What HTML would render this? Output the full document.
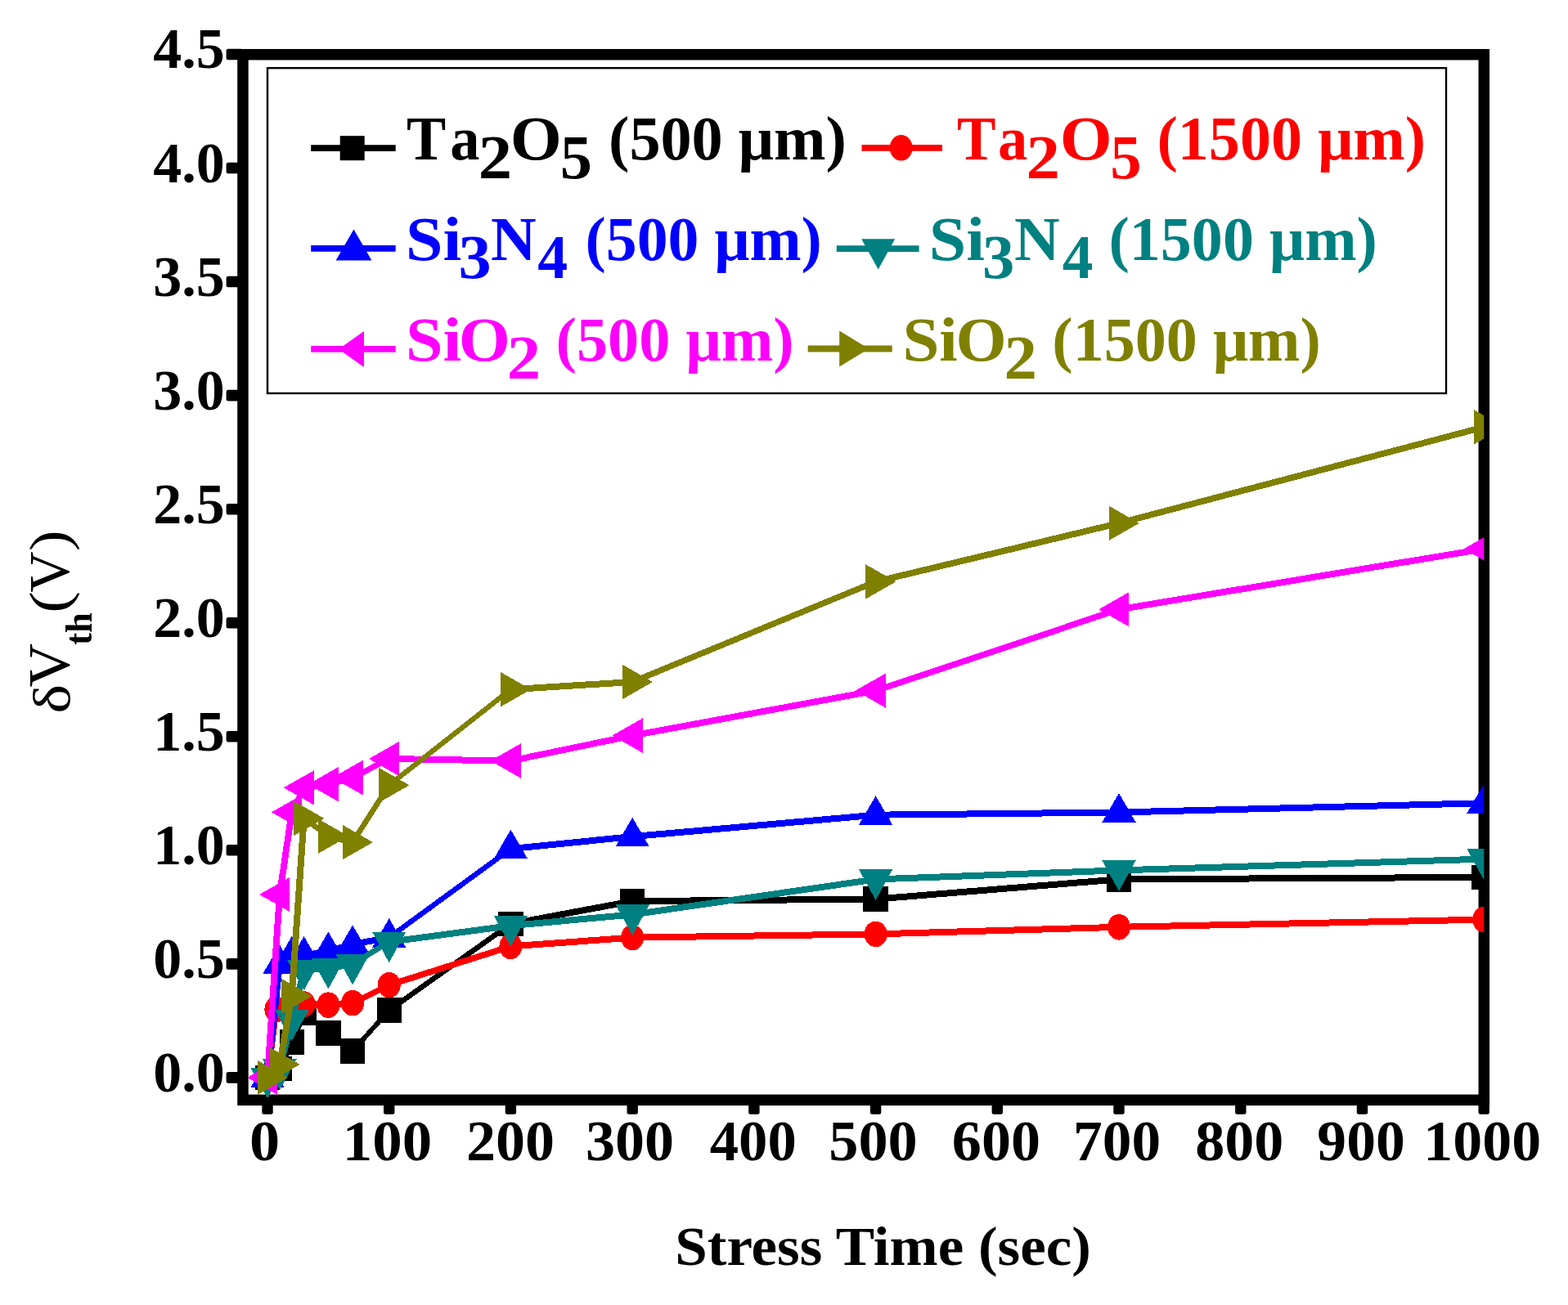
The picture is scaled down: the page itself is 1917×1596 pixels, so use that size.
<!DOCTYPE html>
<html><head><meta charset="utf-8"><title>Stress Time vs dVth</title>
<style>html,body{margin:0;padding:0;background:#fff;overflow:hidden;} svg{display:block;}</style>
</head><body>
<svg width='1917' height='1596' viewBox='0 0 1917 1596'>
<defs><clipPath id='pa'><rect x='296.95' y='66.70' width='1517.35' height='1278.60'/></clipPath></defs>
<rect width='1917' height='1596' fill='#fff'/>
<rect x='296.95' y='66.7' width='1517.35' height='1278.60' fill='none' stroke='#000' stroke-width='13.5'/>
<g clip-path='url(#pa)' shape-rendering='crispEdges'>
<path d='M327.0,1313.9 L341.9,1302.8 L341.9,1310.8 L327.0,1321.9Z M337.9,1306.8 L352.7,1274.2 L360.7,1274.2 L345.9,1306.8Z M352.7,1274.2 L367.6,1238.9 L375.6,1238.9 L360.7,1274.2Z M371.6,1234.9 L401.4,1259.4 L401.4,1267.4 L371.6,1242.9Z M401.4,1259.4 L431.1,1281.4 L431.1,1289.4 L401.4,1267.4Z M427.1,1285.4 L471.7,1235.6 L479.7,1235.6 L435.1,1285.4Z M475.7,1231.6 L624.4,1125.9 L624.4,1133.9 L475.7,1239.6Z M624.4,1125.9 L773.2,1098.1 L773.2,1106.1 L624.4,1133.9Z M773.2,1098.1 L1070.6,1095.6 L1070.6,1103.6 L773.2,1106.1Z M1070.6,1095.6 L1368.0,1071.4 L1368.0,1079.4 L1070.6,1103.6Z M1368.0,1071.4 L1814.2,1068.9 L1814.2,1076.9 L1368.0,1079.4Z' fill='#000000'/>
<rect x='311.8' y='1302.7' width='30.5' height='30.5' fill='#000000'/>
<rect x='326.6' y='1291.5' width='30.5' height='30.5' fill='#000000'/>
<rect x='341.5' y='1259.0' width='30.5' height='30.5' fill='#000000'/>
<rect x='356.4' y='1223.7' width='30.5' height='30.5' fill='#000000'/>
<rect x='386.1' y='1248.1' width='30.5' height='30.5' fill='#000000'/>
<rect x='415.9' y='1270.1' width='30.5' height='30.5' fill='#000000'/>
<rect x='460.5' y='1220.3' width='30.5' height='30.5' fill='#000000'/>
<rect x='609.2' y='1114.7' width='30.5' height='30.5' fill='#000000'/>
<rect x='757.9' y='1086.8' width='30.5' height='30.5' fill='#000000'/>
<rect x='1055.3' y='1084.3' width='30.5' height='30.5' fill='#000000'/>
<rect x='1352.8' y='1060.1' width='30.5' height='30.5' fill='#000000'/>
<rect x='1799.0' y='1057.6' width='30.5' height='30.5' fill='#000000'/>
<path d='M323.0,1317.9 L333.4,1234.5 L341.4,1234.5 L331.0,1317.9Z M337.4,1230.5 L356.7,1227.7 L356.7,1235.7 L337.4,1238.5Z M356.7,1227.7 L371.6,1224.1 L371.6,1232.1 L356.7,1235.7Z M371.6,1224.1 L401.4,1225.2 L401.4,1233.2 L371.6,1232.1Z M401.4,1225.2 L431.1,1222.7 L431.1,1230.7 L401.4,1233.2Z M431.1,1222.7 L475.7,1200.7 L475.7,1208.7 L431.1,1230.7Z M475.7,1200.7 L624.4,1153.4 L624.4,1161.4 L475.7,1208.7Z M624.4,1153.4 L773.2,1142.6 L773.2,1150.6 L624.4,1161.4Z M773.2,1142.6 L1070.6,1138.4 L1070.6,1146.4 L773.2,1150.6Z M1070.6,1138.4 L1368.0,1129.8 L1368.0,1137.8 L1070.6,1146.4Z M1368.0,1129.8 L1814.2,1120.6 L1814.2,1128.6 L1368.0,1137.8Z' fill='#FF0000'/>
<ellipse cx='327.0' cy='1317.9' rx='14' ry='15.8' fill='#FF0000'/>
<ellipse cx='337.4' cy='1234.5' rx='14' ry='15.8' fill='#FF0000'/>
<ellipse cx='356.7' cy='1231.7' rx='14' ry='15.8' fill='#FF0000'/>
<ellipse cx='371.6' cy='1228.1' rx='14' ry='15.8' fill='#FF0000'/>
<ellipse cx='401.4' cy='1229.2' rx='14' ry='15.8' fill='#FF0000'/>
<ellipse cx='431.1' cy='1226.7' rx='14' ry='15.8' fill='#FF0000'/>
<ellipse cx='475.7' cy='1204.7' rx='14' ry='15.8' fill='#FF0000'/>
<ellipse cx='624.4' cy='1157.4' rx='14' ry='15.8' fill='#FF0000'/>
<ellipse cx='773.2' cy='1146.6' rx='14' ry='15.8' fill='#FF0000'/>
<ellipse cx='1070.6' cy='1142.4' rx='14' ry='15.8' fill='#FF0000'/>
<ellipse cx='1368.0' cy='1133.8' rx='14' ry='15.8' fill='#FF0000'/>
<ellipse cx='1814.2' cy='1124.6' rx='14' ry='15.8' fill='#FF0000'/>
<path d='M323.0,1317.9 L337.9,1178.9 L345.9,1178.9 L331.0,1317.9Z M341.9,1174.9 L356.7,1164.6 L356.7,1172.6 L341.9,1182.9Z M356.7,1164.6 L371.6,1164.6 L371.6,1172.6 L356.7,1172.6Z M371.6,1164.6 L401.4,1159.0 L401.4,1167.0 L371.6,1172.6Z M401.4,1159.0 L431.1,1150.9 L431.1,1158.9 L401.4,1167.0Z M431.1,1150.9 L475.7,1142.6 L475.7,1150.6 L431.1,1158.9Z M475.7,1142.6 L624.4,1034.1 L624.4,1042.1 L475.7,1150.6Z M624.4,1034.1 L773.2,1019.1 L773.2,1027.1 L624.4,1042.1Z M773.2,1019.1 L1070.6,992.7 L1070.6,1000.7 L773.2,1027.1Z M1070.6,992.7 L1368.0,989.5 L1368.0,997.5 L1070.6,1000.7Z M1368.0,989.5 L1814.2,978.2 L1814.2,986.2 L1368.0,997.5Z' fill='#0000FF'/>
<polygon points='327.0,1294.4 347.7,1330.2 306.3,1330.2' fill='#0000FF'/>
<polygon points='341.9,1155.4 362.6,1191.2 321.2,1191.2' fill='#0000FF'/>
<polygon points='356.7,1145.1 377.4,1180.9 336.0,1180.9' fill='#0000FF'/>
<polygon points='371.6,1145.1 392.3,1180.9 350.9,1180.9' fill='#0000FF'/>
<polygon points='401.4,1139.5 422.1,1175.3 380.7,1175.3' fill='#0000FF'/>
<polygon points='431.1,1131.4 451.8,1167.2 410.4,1167.2' fill='#0000FF'/>
<polygon points='475.7,1123.1 496.4,1158.9 455.0,1158.9' fill='#0000FF'/>
<polygon points='624.4,1014.6 645.1,1050.4 603.7,1050.4' fill='#0000FF'/>
<polygon points='773.2,999.6 793.9,1035.4 752.5,1035.4' fill='#0000FF'/>
<polygon points='1070.6,973.2 1091.3,1009.0 1049.9,1009.0' fill='#0000FF'/>
<polygon points='1368.0,970.0 1388.7,1005.8 1347.3,1005.8' fill='#0000FF'/>
<polygon points='1814.2,958.7 1834.9,994.5 1793.5,994.5' fill='#0000FF'/>
<path d='M327.0,1313.9 L341.9,1303.6 L341.9,1311.6 L327.0,1321.9Z M337.9,1307.6 L352.7,1247.5 L360.7,1247.5 L345.9,1307.6Z M352.7,1247.5 L367.6,1185.8 L375.6,1185.8 L360.7,1247.5Z M371.6,1181.8 L401.4,1180.1 L401.4,1188.1 L371.6,1189.8Z M401.4,1180.1 L431.1,1175.1 L431.1,1183.1 L401.4,1188.1Z M431.1,1175.1 L475.7,1147.9 L475.7,1155.9 L431.1,1183.1Z M475.7,1147.9 L624.4,1128.1 L624.4,1136.1 L475.7,1155.9Z M624.4,1128.1 L773.2,1114.5 L773.2,1122.5 L624.4,1136.1Z M773.2,1114.5 L1070.6,1071.4 L1070.6,1079.4 L773.2,1122.5Z M1070.6,1071.4 L1368.0,1060.4 L1368.0,1068.4 L1070.6,1079.4Z M1368.0,1060.4 L1814.2,1046.6 L1814.2,1054.6 L1368.0,1068.4Z' fill='#008080'/>
<polygon points='306.3,1305.7 347.7,1305.7 327.0,1343.3' fill='#008080'/>
<polygon points='321.2,1295.4 362.6,1295.4 341.9,1333.0' fill='#008080'/>
<polygon points='336.0,1235.3 377.4,1235.3 356.7,1272.9' fill='#008080'/>
<polygon points='350.9,1173.6 392.3,1173.6 371.6,1211.2' fill='#008080'/>
<polygon points='380.7,1171.9 422.1,1171.9 401.4,1209.5' fill='#008080'/>
<polygon points='410.4,1166.9 451.8,1166.9 431.1,1204.5' fill='#008080'/>
<polygon points='455.0,1139.7 496.4,1139.7 475.7,1177.3' fill='#008080'/>
<polygon points='603.7,1119.9 645.1,1119.9 624.4,1157.5' fill='#008080'/>
<polygon points='752.5,1106.3 793.9,1106.3 773.2,1143.9' fill='#008080'/>
<polygon points='1049.9,1063.2 1091.3,1063.2 1070.6,1100.8' fill='#008080'/>
<polygon points='1347.3,1052.2 1388.7,1052.2 1368.0,1089.8' fill='#008080'/>
<polygon points='1793.5,1038.4 1834.9,1038.4 1814.2,1076.0' fill='#008080'/>
<path d='M323.0,1317.9 L337.9,1094.0 L345.9,1094.0 L331.0,1317.9Z M337.9,1094.0 L352.7,993.4 L360.7,993.4 L345.9,1094.0Z M352.7,993.4 L367.6,963.3 L375.6,963.3 L360.7,993.4Z M371.6,959.3 L401.4,955.2 L401.4,963.2 L371.6,967.3Z M401.4,955.2 L431.1,947.1 L431.1,955.1 L401.4,963.2Z M431.1,947.1 L475.7,924.0 L475.7,932.0 L431.1,955.1Z M475.7,924.0 L624.4,926.5 L624.4,934.5 L475.7,932.0Z M624.4,926.5 L773.2,895.6 L773.2,903.6 L624.4,934.5Z M773.2,895.6 L1070.6,840.6 L1070.6,848.6 L773.2,903.6Z M1070.6,840.6 L1368.0,741.3 L1368.0,749.3 L1070.6,848.6Z M1368.0,741.3 L1814.2,667.3 L1814.2,675.3 L1368.0,749.3Z' fill='#FF00FF'/>
<polygon points='302.2,1317.9 339.4,1296.7 339.4,1339.1' fill='#FF00FF'/>
<polygon points='317.1,1094.0 354.3,1072.8 354.3,1115.2' fill='#FF00FF'/>
<polygon points='331.9,993.4 369.1,972.2 369.1,1014.6' fill='#FF00FF'/>
<polygon points='346.8,963.3 384.0,942.1 384.0,984.5' fill='#FF00FF'/>
<polygon points='376.6,959.2 413.8,938.0 413.8,980.4' fill='#FF00FF'/>
<polygon points='406.3,951.1 443.5,929.9 443.5,972.3' fill='#FF00FF'/>
<polygon points='450.9,928.0 488.1,906.8 488.1,949.2' fill='#FF00FF'/>
<polygon points='599.6,930.5 636.8,909.3 636.8,951.7' fill='#FF00FF'/>
<polygon points='748.4,899.6 785.6,878.4 785.6,920.8' fill='#FF00FF'/>
<polygon points='1045.8,844.6 1083.0,823.4 1083.0,865.8' fill='#FF00FF'/>
<polygon points='1343.2,745.3 1380.4,724.1 1380.4,766.5' fill='#FF00FF'/>
<polygon points='1789.4,671.3 1826.6,650.1 1826.6,692.5' fill='#FF00FF'/>
<path d='M323.0,1317.9 L337.9,1301.8 L345.9,1301.8 L331.0,1317.9Z M337.9,1301.8 L352.7,1218.3 L360.7,1218.3 L345.9,1301.8Z M352.7,1218.3 L367.6,1000.9 L375.6,1000.9 L360.7,1218.3Z M371.6,996.9 L401.4,1018.6 L401.4,1026.6 L371.6,1004.9Z M401.4,1018.6 L431.1,1026.1 L431.1,1034.1 L401.4,1026.6Z M427.1,1030.1 L471.7,960.3 L479.7,960.3 L435.1,1030.1Z M475.7,956.3 L624.4,839.2 L624.4,847.2 L475.7,964.3Z M624.4,839.2 L773.2,830.0 L773.2,838.0 L624.4,847.2Z M773.2,830.0 L1070.6,707.4 L1070.6,715.4 L773.2,838.0Z M1070.6,707.4 L1368.0,635.9 L1368.0,643.9 L1070.6,715.4Z M1368.0,635.9 L1814.2,518.3 L1814.2,526.3 L1368.0,643.9Z' fill='#808000'/>
<polygon points='314.6,1296.7 351.8,1317.9 314.6,1339.1' fill='#808000'/>
<polygon points='329.5,1280.6 366.7,1301.8 329.5,1323.0' fill='#808000'/>
<polygon points='344.3,1197.1 381.5,1218.3 344.3,1239.5' fill='#808000'/>
<polygon points='359.2,979.7 396.4,1000.9 359.2,1022.1' fill='#808000'/>
<polygon points='389.0,1001.4 426.2,1022.6 389.0,1043.8' fill='#808000'/>
<polygon points='418.7,1008.9 455.9,1030.1 418.7,1051.3' fill='#808000'/>
<polygon points='463.3,939.1 500.5,960.3 463.3,981.5' fill='#808000'/>
<polygon points='612.0,822.0 649.2,843.2 612.0,864.4' fill='#808000'/>
<polygon points='760.8,812.8 798.0,834.0 760.8,855.2' fill='#808000'/>
<polygon points='1058.2,690.2 1095.4,711.4 1058.2,732.6' fill='#808000'/>
<polygon points='1355.6,618.7 1392.8,639.9 1355.6,661.1' fill='#808000'/>
<polygon points='1801.8,501.1 1839.0,522.3 1801.8,543.5' fill='#808000'/>
</g>
<g fill='#000'><rect x='276.6' y='1311.1' width='20' height='13.6' rx='2.5'/><rect x='276.6' y='1172.1' width='20' height='13.6' rx='2.5'/><rect x='276.6' y='1033.0' width='20' height='13.6' rx='2.5'/><rect x='276.6' y='894.0' width='20' height='13.6' rx='2.5'/><rect x='276.6' y='754.9' width='20' height='13.6' rx='2.5'/><rect x='276.6' y='615.9' width='20' height='13.6' rx='2.5'/><rect x='276.6' y='476.8' width='20' height='13.6' rx='2.5'/><rect x='276.6' y='337.7' width='20' height='13.6' rx='2.5'/><rect x='276.6' y='198.7' width='20' height='13.6' rx='2.5'/><rect x='276.6' y='59.7' width='20' height='13.6' rx='2.5'/><rect x='320.3' y='1345.3' width='13.4' height='17.4' rx='2.5'/><rect x='469.0' y='1345.3' width='13.4' height='17.4' rx='2.5'/><rect x='617.7' y='1345.3' width='13.4' height='17.4' rx='2.5'/><rect x='766.5' y='1345.3' width='13.4' height='17.4' rx='2.5'/><rect x='915.2' y='1345.3' width='13.4' height='17.4' rx='2.5'/><rect x='1063.9' y='1345.3' width='13.4' height='17.4' rx='2.5'/><rect x='1212.6' y='1345.3' width='13.4' height='17.4' rx='2.5'/><rect x='1361.3' y='1345.3' width='13.4' height='17.4' rx='2.5'/><rect x='1510.1' y='1345.3' width='13.4' height='17.4' rx='2.5'/><rect x='1658.8' y='1345.3' width='13.4' height='17.4' rx='2.5'/><rect x='1807.5' y='1345.3' width='13.4' height='17.4' rx='2.5'/></g>
<g font-family='Liberation Serif' fill='#000'><text x='187.21' y='1334.90' font-size='70' font-weight='bold' textLength='87.50' lengthAdjust='spacingAndGlyphs'>0.0</text><text x='187.21' y='1195.85' font-size='70' font-weight='bold' textLength='87.50' lengthAdjust='spacingAndGlyphs'>0.5</text><text x='187.21' y='1056.80' font-size='70' font-weight='bold' textLength='87.50' lengthAdjust='spacingAndGlyphs'>1.0</text><text x='187.21' y='917.75' font-size='70' font-weight='bold' textLength='87.50' lengthAdjust='spacingAndGlyphs'>1.5</text><text x='187.21' y='778.70' font-size='70' font-weight='bold' textLength='87.50' lengthAdjust='spacingAndGlyphs'>2.0</text><text x='187.21' y='639.65' font-size='70' font-weight='bold' textLength='87.50' lengthAdjust='spacingAndGlyphs'>2.5</text><text x='187.21' y='500.60' font-size='70' font-weight='bold' textLength='87.50' lengthAdjust='spacingAndGlyphs'>3.0</text><text x='187.21' y='361.55' font-size='70' font-weight='bold' textLength='87.50' lengthAdjust='spacingAndGlyphs'>3.5</text><text x='187.21' y='222.50' font-size='70' font-weight='bold' textLength='87.50' lengthAdjust='spacingAndGlyphs'>4.0</text><text x='187.21' y='83.45' font-size='70' font-weight='bold' textLength='87.50' lengthAdjust='spacingAndGlyphs'>4.5</text><text x='305.04' y='1419.00' font-size='70' font-weight='bold' textLength='37.13' lengthAdjust='spacingAndGlyphs'>0</text><text x='418.89' y='1419.00' font-size='70' font-weight='bold' textLength='109.46' lengthAdjust='spacingAndGlyphs'>100</text><text x='569.93' y='1419.00' font-size='70' font-weight='bold' textLength='108.08' lengthAdjust='spacingAndGlyphs'>200</text><text x='715.93' y='1419.00' font-size='70' font-weight='bold' textLength='108.08' lengthAdjust='spacingAndGlyphs'>300</text><text x='867.70' y='1419.00' font-size='70' font-weight='bold' textLength='106.06' lengthAdjust='spacingAndGlyphs'>400</text><text x='1013.22' y='1419.00' font-size='70' font-weight='bold' textLength='108.50' lengthAdjust='spacingAndGlyphs'>500</text><text x='1163.85' y='1419.00' font-size='70' font-weight='bold' textLength='108.16' lengthAdjust='spacingAndGlyphs'>600</text><text x='1312.05' y='1419.00' font-size='70' font-weight='bold' textLength='107.03' lengthAdjust='spacingAndGlyphs'>700</text><text x='1461.15' y='1419.00' font-size='70' font-weight='bold' textLength='108.16' lengthAdjust='spacingAndGlyphs'>800</text><text x='1610.37' y='1419.00' font-size='70' font-weight='bold' textLength='107.43' lengthAdjust='spacingAndGlyphs'>900</text><text x='1740.28' y='1419.00' font-size='70' font-weight='bold' textLength='143.88' lengthAdjust='spacingAndGlyphs'>1000</text></g>
<g font-family='Liberation Serif' fill='#000'><text x='825.29' y='1546.80' font-size='68' font-weight='bold' textLength='508.53' lengthAdjust='spacingAndGlyphs'>Stress Time (sec)</text></g>
<g transform='translate(84.6,872) rotate(-90)' font-family='Liberation Serif' fill='#000'><text x='-0.55' y='0.50' font-size='63' textLength='35.63' lengthAdjust='spacingAndGlyphs'>δ</text><text x='31.87' y='-1.00' font-size='72' textLength='53.35' lengthAdjust='spacingAndGlyphs'>V</text><text x='83.19' y='27.60' font-size='46' font-weight='bold' textLength='39.33' lengthAdjust='spacingAndGlyphs'>th</text><text x='122.28' y='-1.80' font-size='67' textLength='26.51' lengthAdjust='spacingAndGlyphs'>(</text><text x='147.54' y='-0.50' font-size='70' textLength='50.13' lengthAdjust='spacingAndGlyphs'>V</text><text x='197.97' y='-1.80' font-size='67' textLength='25.50' lengthAdjust='spacingAndGlyphs'>)</text></g>
<rect x='327' y='83.2' width='1441' height='397.8' fill='none' stroke='#000' stroke-width='2.4'/>
<line x1='380.2' y1='181.2' x2='483.7' y2='181.2' stroke='#000000' stroke-width='7.8'/><rect x='415.7' y='166.2' width='30' height='30' fill='#000000'/><line x1='1053.5' y1='180.8' x2='1152' y2='180.8' stroke='#FF0000' stroke-width='7.8'/><ellipse cx='1101.7' cy='180.8' rx='14' ry='15.8' fill='#FF0000'/><line x1='380.2' y1='303.9' x2='483.7' y2='303.9' stroke='#0000FF' stroke-width='7.8'/><polygon points='432.5,280.4 454.4,318.4 410.6,318.4' fill='#0000FF'/><line x1='1022.8' y1='304.2' x2='1123.6' y2='304.2' stroke='#008080' stroke-width='7.8'/><polygon points='1053.2,292.2 1094.2,292.2 1073.7,329.6' fill='#008080'/><line x1='380.2' y1='426.9' x2='483.7' y2='426.9' stroke='#FF00FF' stroke-width='7.8'/><polygon points='414.0,426.9 445.0,404.9 445.0,448.9' fill='#FF00FF'/><line x1='987.7' y1='426.5' x2='1090.7' y2='426.5' stroke='#808000' stroke-width='7.8'/><polygon points='1026.2,404.5 1062.2,426.5 1026.2,448.5' fill='#808000'/><g font-family='Liberation Serif' fill='#000000'><text x='497.06' y='195.20' font-size='77' font-weight='bold' textLength='48.21' lengthAdjust='spacingAndGlyphs'>T</text><text x='550.22' y='195.20' font-size='77' font-weight='bold' textLength='36.19' lengthAdjust='spacingAndGlyphs'>a</text><text x='584.68' y='217.50' font-size='77' font-weight='bold' textLength='41.27' lengthAdjust='spacingAndGlyphs'>2</text><text x='623.78' y='195.20' font-size='77' font-weight='bold' textLength='63.13' lengthAdjust='spacingAndGlyphs'>O</text><text x='684.85' y='217.50' font-size='77' font-weight='bold' textLength='39.20' lengthAdjust='spacingAndGlyphs'>5</text><text x='744.03' y='195.20' font-size='77' font-weight='bold' textLength='290.87' lengthAdjust='spacingAndGlyphs'>(500 μm)</text></g><g font-family='Liberation Serif' fill='#FF0000'><text x='1170.08' y='195.20' font-size='77' font-weight='bold' textLength='47.48' lengthAdjust='spacingAndGlyphs'>T</text><text x='1219.92' y='195.20' font-size='77' font-weight='bold' textLength='36.19' lengthAdjust='spacingAndGlyphs'>a</text><text x='1254.58' y='217.50' font-size='77' font-weight='bold' textLength='41.39' lengthAdjust='spacingAndGlyphs'>2</text><text x='1295.83' y='195.20' font-size='77' font-weight='bold' textLength='63.94' lengthAdjust='spacingAndGlyphs'>O</text><text x='1357.31' y='217.50' font-size='77' font-weight='bold' textLength='38.38' lengthAdjust='spacingAndGlyphs'>5</text><text x='1414.43' y='195.20' font-size='77' font-weight='bold' textLength='328.76' lengthAdjust='spacingAndGlyphs'>(1500 μm)</text></g><g font-family='Liberation Serif' fill='#0000FF'><text x='495.96' y='317.90' font-size='77' font-weight='bold' textLength='68.14' lengthAdjust='spacingAndGlyphs'>Si</text><text x='560.47' y='340.20' font-size='77' font-weight='bold' textLength='40.13' lengthAdjust='spacingAndGlyphs'>3</text><text x='600.10' y='317.90' font-size='77' font-weight='bold' textLength='55.61' lengthAdjust='spacingAndGlyphs'>N</text><text x='657.24' y='340.20' font-size='77' font-weight='bold' textLength='36.90' lengthAdjust='spacingAndGlyphs'>4</text><text x='715.55' y='317.90' font-size='77' font-weight='bold' textLength='289.24' lengthAdjust='spacingAndGlyphs'>(500 μm)</text></g><g font-family='Liberation Serif' fill='#008080'><text x='1135.86' y='317.90' font-size='77' font-weight='bold' textLength='68.14' lengthAdjust='spacingAndGlyphs'>Si</text><text x='1201.14' y='340.20' font-size='77' font-weight='bold' textLength='39.32' lengthAdjust='spacingAndGlyphs'>3</text><text x='1240.00' y='317.90' font-size='77' font-weight='bold' textLength='55.61' lengthAdjust='spacingAndGlyphs'>N</text><text x='1298.72' y='340.20' font-size='77' font-weight='bold' textLength='37.64' lengthAdjust='spacingAndGlyphs'>4</text><text x='1355.43' y='317.90' font-size='77' font-weight='bold' textLength='328.45' lengthAdjust='spacingAndGlyphs'>(1500 μm)</text></g><g font-family='Liberation Serif' fill='#FF00FF'><text x='495.96' y='440.50' font-size='77' font-weight='bold' textLength='68.14' lengthAdjust='spacingAndGlyphs'>Si</text><text x='560.88' y='440.50' font-size='77' font-weight='bold' textLength='63.13' lengthAdjust='spacingAndGlyphs'>O</text><text x='619.77' y='462.80' font-size='77' font-weight='bold' textLength='41.39' lengthAdjust='spacingAndGlyphs'>2</text><text x='679.53' y='440.50' font-size='77' font-weight='bold' textLength='291.28' lengthAdjust='spacingAndGlyphs'>(500 μm)</text></g><g font-family='Liberation Serif' fill='#808000'><text x='1103.51' y='440.50' font-size='77' font-weight='bold' textLength='67.27' lengthAdjust='spacingAndGlyphs'>Si</text><text x='1168.55' y='440.50' font-size='77' font-weight='bold' textLength='62.21' lengthAdjust='spacingAndGlyphs'>O</text><text x='1227.45' y='462.80' font-size='77' font-weight='bold' textLength='40.43' lengthAdjust='spacingAndGlyphs'>2</text><text x='1286.33' y='440.50' font-size='77' font-weight='bold' textLength='328.45' lengthAdjust='spacingAndGlyphs'>(1500 μm)</text></g>
</svg>
</body></html>
